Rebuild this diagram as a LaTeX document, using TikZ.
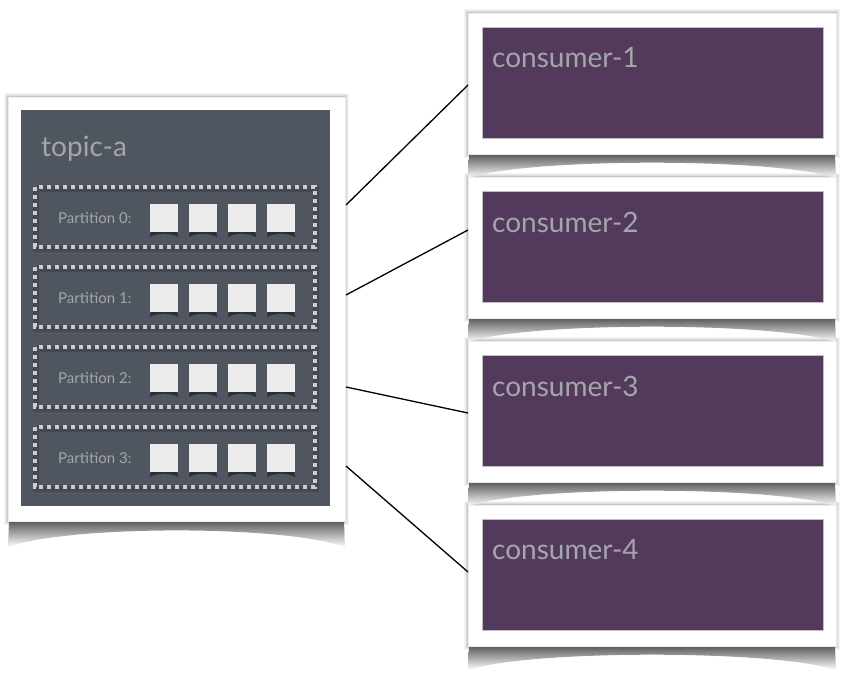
\documentclass[tikz,border=0pt]{standalone}
\usepackage{fontspec}
\setmainfont{Lato}
\usetikzlibrary{calc}
\definecolor{panel}{HTML}{4F565F}
\definecolor{plum}{HTML}{533A5C}
\definecolor{txt}{HTML}{A3A6AA}
\definecolor{dots}{HTML}{CDCDCD}
\definecolor{sq}{HTML}{ECECEC}
\newcommand\curlshadow[4]{% x1 x2 y depth
  \shade[top color=black!65, bottom color=white] (#1,#3) -- (#2,#3) -- (#2+1,#3+#4)
    .. controls (#2-60,#3+#4*0.15) and (#1+60,#3+#4*0.15) .. (#1-1,#3+#4) -- cycle;}
\begin{document}
\begin{tikzpicture}[x=1pt,y=-1pt,
  frame/.style={fill=white, draw=black!8, line width=0.6pt, inner sep=0pt, outer sep=0pt, anchor=north west},
  topicpanel/.style={fill=panel, draw=none, inner sep=0pt, anchor=north west, minimum width=309pt, minimum height=396pt},
  conspanel/.style={fill=plum, draw=black!25, line width=0.4pt, inner sep=0pt, anchor=north west, minimum width=341pt, minimum height=111pt},
  bigtext/.style={text=txt, font=\fontsize{28}{32}\selectfont, anchor=west, inner sep=0pt},
  parttext/.style={text=txt, font=\fontsize{15}{18}\selectfont, anchor=west, inner sep=0pt},
  partbox/.style={draw=dots, line width=4.2pt, dash pattern=on 4.2pt off 3.8pt},
  msg/.style={fill=sq, draw=none, inner sep=0pt, minimum size=28pt, anchor=north west},
  link/.style={draw=black, line width=1.3pt}
]
\useasboundingbox (0,0) rectangle (854,681);
% soft side shadows
\foreach \d/\o in {4/0.04,3/0.05,2/0.06,1/0.08}{
  \fill[black, opacity=\o] (8-\d,97-\d) rectangle (345+\d,521+\d);
  \foreach \k in {0,1,2,3}{
    \fill[black, opacity=\o] (468-\d,13+164*\k-\d) rectangle (836+\d,154+164*\k+\d);
  }
}
% curled shadows
\curlshadow{9}{344}{521}{26}
\foreach \k in {0,1,2,3}{
  \curlshadow{469}{835}{154+164*\k}{24}
}
% topic frame
\node[frame, minimum width=337pt, minimum height=424pt] (topicframe) at (8,97) {};
\node[topicpanel] (topic) at (21,110) {};
\node[bigtext] (topiclabel) at (41,149) {topic-a};
\foreach \p in {0,1,2,3}{
  \draw[black, opacity=0.15, line width=6pt] (36,189+80*\p) rectangle (316,249+80*\p);
  \draw[partbox] (35,187+80*\p) rectangle (315,247+80*\p);
  \node[parttext] (plabel\p) at (58,218+80*\p) {Partition \p:};
  \foreach \m/\x in {0/150,1/189,2/228,3/267}{
    \fill[black, opacity=0.45] (\x+1,204+80*\p+27) -- (\x+27,204+80*\p+27) -- (\x+28,204+80*\p+33)
       .. controls (\x+20,204+80*\p+28.5) and (\x+8,204+80*\p+28.5) .. (\x+0,204+80*\p+33) -- cycle;
    \node[msg] (m\p\m) at (\x,204+80*\p) {};
  }
}
% consumers
\foreach \k [evaluate=\k as \n using int(\k+1)] in {0,1,2,3}{
  \node[frame, minimum width=368pt, minimum height=141pt] (cframe\n) at (468,13+164*\k) {};
  \node[conspanel] (cons\n) at (482,27+164*\k) {};
  \node[bigtext] (clabel\n) at (492,58+164*\k) {consumer-\n};
}
% connectors
\coordinate (t1) at ($(topicframe.north east)+(1,108)$);
\coordinate (t2) at ($(topicframe.north east)+(1,198)$);
\coordinate (t3) at ($(topicframe.north east)+(1,290)$);
\coordinate (t4) at ($(topicframe.north east)+(1,369)$);
\coordinate (e1) at ($(cframe1.north west)+(0,72)$);
\coordinate (e2) at ($(cframe2.north west)+(0,53)$);
\coordinate (e3) at ($(cframe3.north west)+(0,72)$);
\coordinate (e4) at ($(cframe4.north west)+(0,67)$);
\foreach \i in {1,2,3,4}{ \draw[link] (t\i) -- (e\i); }
\end{tikzpicture}
\end{document}
